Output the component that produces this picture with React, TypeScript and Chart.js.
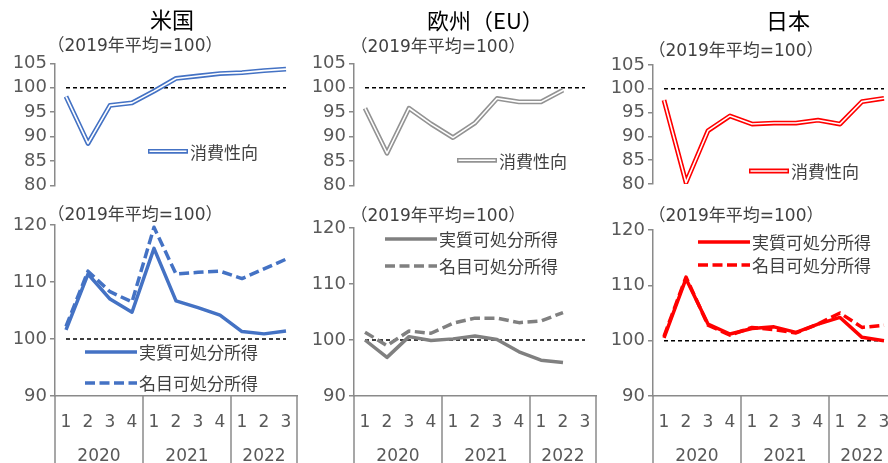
import React, { useEffect, useRef } from 'react';
import { Chart, registerables } from 'chart.js';

Chart.register(...registerables);

// ---------- data ----------
const quarters = ['1', '2', '3', '4', '1', '2', '3', '4', '1', '2', '3'];
const years = ['2020', '2021', '2022'];
const yearSizes = [4, 4, 3];
const baseline = [100, 100, 100, 100, 100, 100, 100, 100, 100, 100, 100];

const usPropensity = [98.2, 88.6, 96.4, 96.9, 99.3, 101.9, 102.4, 102.9, 103.1, 103.5, 103.8];
const euPropensity = [95.8, 86.6, 95.8, 92.6, 89.8, 92.8, 97.8, 97.1, 97.1, 99.5];
const jpPropensity = [97.6, 80.3, 91.2, 94.3, 92.6, 92.8, 92.8, 93.4, 92.6, 97.3, 98.0];

const usReal = [101.6, 111.4, 107.0, 104.7, 115.9, 106.7, 105.5, 104.2, 101.3, 100.9, 101.4];
const usNominal = [102.2, 111.9, 108.3, 106.5, 119.6, 111.4, 111.7, 111.9, 110.6, 112.3, 114.0];
const euReal = [100.0, 96.9, 100.6, 99.9, 100.2, 100.7, 100.1, 97.9, 96.4, 96.0];
const euNominal = [101.4, 99.0, 101.6, 101.2, 103.0, 103.9, 103.9, 103.1, 103.4, 104.9];
const jpReal = [100.5, 111.2, 103.0, 101.2, 102.2, 102.5, 101.5, 103.0, 104.2, 100.6, 100.0];
const jpNominal = [100.8, 111.5, 102.8, 101.0, 102.4, 102.0, 101.4, 103.0, 105.0, 102.4, 102.8];

const titles = ['米国', '欧州（EU）', '日本'];
const subtitle = '（2019年平均=100）';
const propensityLabel = '消費性向';
const realLabel = '実質可処分所得';
const nominalLabel = '名目可処分所得';

// ---------- styles ----------
const AXIS = '#8a8a8a';
const TICK = '#595959';
const TEXT = '#404040';
const NUM_FONT = '"DejaVu Sans", "Noto Sans CJK JP", sans-serif';
const JP_FONT = '"Noto Sans CJK JP", sans-serif';

type LegendItem = { ds: number; inner?: number; dx: number; dy: number; len: number };

function makeLegendPlugin(items: LegendItem[]) {
  return {
    id: 'innerLegend',
    afterDatasetsDraw(chart: any) {
      const { ctx, chartArea } = chart;
      items.forEach((it) => {
        const d = chart.data.datasets[it.ds];
        const x0 = chartArea.left + it.dx;
        const y = chartArea.top + it.dy;
        ctx.save();
        ctx.lineCap = 'butt';
        ctx.strokeStyle = d.borderColor;
        ctx.lineWidth = d.borderWidth;
        ctx.setLineDash(d.borderDash || []);
        ctx.beginPath();
        ctx.moveTo(x0, y);
        ctx.lineTo(x0 + it.len, y);
        ctx.stroke();
        if (it.inner !== undefined) {
          const di = chart.data.datasets[it.inner];
          ctx.strokeStyle = di.borderColor;
          ctx.lineWidth = di.borderWidth;
          ctx.beginPath();
          ctx.moveTo(x0 + 1.5, y);
          ctx.lineTo(x0 + it.len - 1.5, y);
          ctx.stroke();
        }
        ctx.setLineDash([]);
        ctx.fillStyle = TEXT;
        ctx.font = '17px ' + JP_FONT;
        ctx.textAlign = 'left';
        ctx.textBaseline = 'middle';
        ctx.fillText(d.label, x0 + it.len + 2, y + 1);
        ctx.restore();
      });
    },
  };
}

function makeGroupPlugin() {
  return {
    id: 'yearGroups',
    afterDraw(chart: any) {
      const xs = chart.scales.x;
      const { ctx, chartArea } = chart;
      const step = xs.getPixelForValue(1) - xs.getPixelForValue(0);
      const edges = [0];
      yearSizes.forEach((n) => edges.push(edges[edges.length - 1] + n));
      ctx.save();
      ctx.strokeStyle = AXIS;
      ctx.lineWidth = 1.5;
      edges.forEach((e) => {
        const x = xs.getPixelForValue(e) - step / 2;
        ctx.beginPath();
        ctx.moveTo(x, chartArea.bottom);
        ctx.lineTo(x, chart.height);
        ctx.stroke();
      });
      ctx.fillStyle = TICK;
      ctx.font = '17px ' + NUM_FONT;
      ctx.textAlign = 'center';
      ctx.textBaseline = 'middle';
      years.forEach((yr, i) => {
        const x = (xs.getPixelForValue(edges[i]) + xs.getPixelForValue(edges[i + 1] - 1)) / 2;
        ctx.fillText(yr, x, chartArea.bottom + 61);
      });
      ctx.restore();
    },
  };
}

type PanelProps = {
  left: number;
  top: number;
  width: number;
  height: number;
  padding: { top: number; bottom: number; left: number; right: number };
  yMin: number;
  yMax: number;
  yStep: number;
  datasets: any[];
  legend: LegendItem[];
  xAxis: boolean;
  xAxisHeight: number;
};

function Panel(p: PanelProps) {
  const ref = useRef<HTMLCanvasElement>(null);
  useEffect(() => {
    const plugins: any[] = [makeLegendPlugin(p.legend)];
    if (p.xAxis) plugins.push(makeGroupPlugin());
    const chart = new Chart(ref.current as HTMLCanvasElement, {
      type: 'line',
      data: { labels: quarters, datasets: p.datasets },
      options: {
        responsive: false,
        animation: false,
        devicePixelRatio: 1,
        layout: { padding: p.padding },
        plugins: { legend: { display: false }, tooltip: { enabled: false } },
        elements: {
          point: { radius: 0, hoverRadius: 0 },
          line: { tension: 0, borderJoinStyle: 'round', borderCapStyle: 'butt' },
        },
        scales: {
          x: {
            type: 'category',
            display: p.xAxis,
            offset: true,
            grid: { display: true, drawOnChartArea: false, drawTicks: false },
            border: { display: true, color: AXIS, width: 1.5 },
            ticks: {
              autoSkip: false,
              maxRotation: 0,
              color: TICK,
              padding: 16,
              font: { family: NUM_FONT, size: 17 },
            },
            afterFit: (s: any) => {
              s.height = p.xAxisHeight;
            },
          },
          y: {
            min: p.yMin,
            max: p.yMax,
            grid: { display: true, drawOnChartArea: false, drawTicks: true, tickLength: 5, color: AXIS, lineWidth: 1.5 },
            border: { display: true, color: AXIS, width: 1.5 },
            ticks: {
              stepSize: p.yStep,
              autoSkip: false,
              color: TICK,
              padding: 3,
              font: { family: NUM_FONT, size: 18 },
            },
            afterFit: (s: any) => {
              s.width = 55;
            },
          },
        },
      } as any,
      plugins,
    });
    return () => chart.destroy();
  }, []);
  return (
    <canvas
      ref={ref}
      width={p.width}
      height={p.height}
      style={{ position: 'absolute', left: p.left, top: p.top, width: p.width, height: p.height }}
    />
  );
}

function baseLineDs() {
  return { label: '', data: baseline, borderColor: '#000000', borderWidth: 1.5, borderDash: [4, 3], order: 5 };
}

function topDatasets(values: number[], color: string) {
  return [
    { label: propensityLabel, data: values, borderColor: color, borderWidth: 4.8, order: 2 },
    { label: '', data: values, borderColor: '#ffffff', borderWidth: 1.6, order: 1 },
    baseLineDs(),
  ];
}

function bottomDatasets(real: number[], nominal: number[], color: string, nominalOnTop: boolean) {
  return [
    { label: realLabel, data: real, borderColor: color, borderWidth: 3.5, order: nominalOnTop ? 2 : 1 },
    { label: nominalLabel, data: nominal, borderColor: color, borderWidth: 3.5, borderDash: [10, 4.5], order: nominalOnTop ? 1 : 2 },
    baseLineDs(),
  ];
}

const CANVAS_W = 320;
const PLOT_W = 242;
const AXIS_W = 55;

type Col = {
  axisX: number;
  topArea: [number, number];
  bottomArea: [number, number];
  prop: number[];
  real: number[];
  nominal: number[];
  topColor: string;
  color: string;
  nominalOnTop: boolean;
  topLegend: [number, number];
  bottomLegend: [number, number, number];
  title: [number, number];
  subTop: [number, number];
  subBottom: [number, number];
};

const cols: Col[] = [
  {
    axisX: 55, topArea: [63.3, 185.5], bottomArea: [225, 396],
    prop: usPropensity, real: usReal, nominal: usNominal,
    topColor: '#4472C4', color: '#4472C4', nominalOnTop: false,
    topLegend: [93, 88], bottomLegend: [30, 127, 158],
    title: [150, 20], subTop: [57, 47], subBottom: [57, 216],
  },
  {
    axisX: 354, topArea: [63.3, 185.5], bottomArea: [228, 396],
    prop: euPropensity, real: euReal, nominal: euNominal,
    topColor: '#939393', color: '#808080', nominalOnTop: false,
    topLegend: [103, 97], bottomLegend: [31, 11, 38],
    title: [427, 20.5], subTop: [360, 48], subBottom: [360, 217],
  },
  {
    axisX: 653, topArea: [65, 184], bottomArea: [230, 396],
    prop: jpPropensity, real: jpReal, nominal: jpNominal,
    topColor: '#FF0000', color: '#FF0000', nominalOnTop: true,
    topLegend: [96, 106], bottomLegend: [45, 12, 35],
    title: [766, 20.5], subTop: [658, 51.5], subBottom: [658, 217],
  },
];

function Text(props: { x: number; cy: number; size: number; font: string; color: string; children: React.ReactNode }) {
  const top = props.cy - props.size * 0.58;
  return (
    <div
      style={{
        position: 'absolute',
        left: props.x,
        top,
        fontSize: props.size,
        lineHeight: props.size + 'px',
        fontFamily: props.font,
        color: props.color,
        whiteSpace: 'nowrap',
      }}
    >
      {props.children}
    </div>
  );
}

export default function App() {
  return (
    <div
      style={{
        position: 'fixed',
        left: 0,
        top: 0,
        width: 888,
        height: 463,
        overflow: 'hidden',
        background: '#ffffff',
      }}
    >
      {cols.map((c, i) => {
        const left = c.axisX - AXIS_W;
        const right = CANVAS_W - AXIS_W - PLOT_W;
        const topH = 200;
        const botTop = 200;
        const botH = 263;
        return (
          <React.Fragment key={i}>
            <Panel
              left={left}
              top={0}
              width={CANVAS_W}
              height={topH}
              padding={{ top: c.topArea[0], bottom: topH - c.topArea[1], left: 0, right }}
              yMin={80}
              yMax={105}
              yStep={5}
              datasets={topDatasets(c.prop, c.topColor)}
              legend={[{ ds: 0, inner: 1, dx: c.topLegend[0], dy: c.topLegend[1], len: 40 }]}
              xAxis={false}
              xAxisHeight={0}
            />
            <Panel
              left={left}
              top={botTop}
              width={CANVAS_W}
              height={botH}
              padding={{ top: c.bottomArea[0] - botTop, bottom: 0, left: 0, right }}
              yMin={90}
              yMax={120}
              yStep={10}
              datasets={bottomDatasets(c.real, c.nominal, c.color, c.nominalOnTop)}
              legend={[
                { ds: 0, dx: c.bottomLegend[0], dy: c.bottomLegend[1], len: 52 },
                { ds: 1, dx: c.bottomLegend[0], dy: c.bottomLegend[2], len: 52 },
              ]}
              xAxis={true}
              xAxisHeight={botTop + botH - c.bottomArea[1]}
            />
            <Text x={c.title[0]} cy={c.title[1]} size={22} font={JP_FONT} color="#000000">
              {titles[i]}
            </Text>
            <Text x={c.subTop[0] - 9.5} cy={c.subTop[1]} size={17} font={NUM_FONT} color={TEXT}>
              {subtitle}
            </Text>
            <Text x={c.subBottom[0] - 9.5} cy={c.subBottom[1]} size={17} font={NUM_FONT} color={TEXT}>
              {subtitle}
            </Text>
          </React.Fragment>
        );
      })}
    </div>
  );
}
